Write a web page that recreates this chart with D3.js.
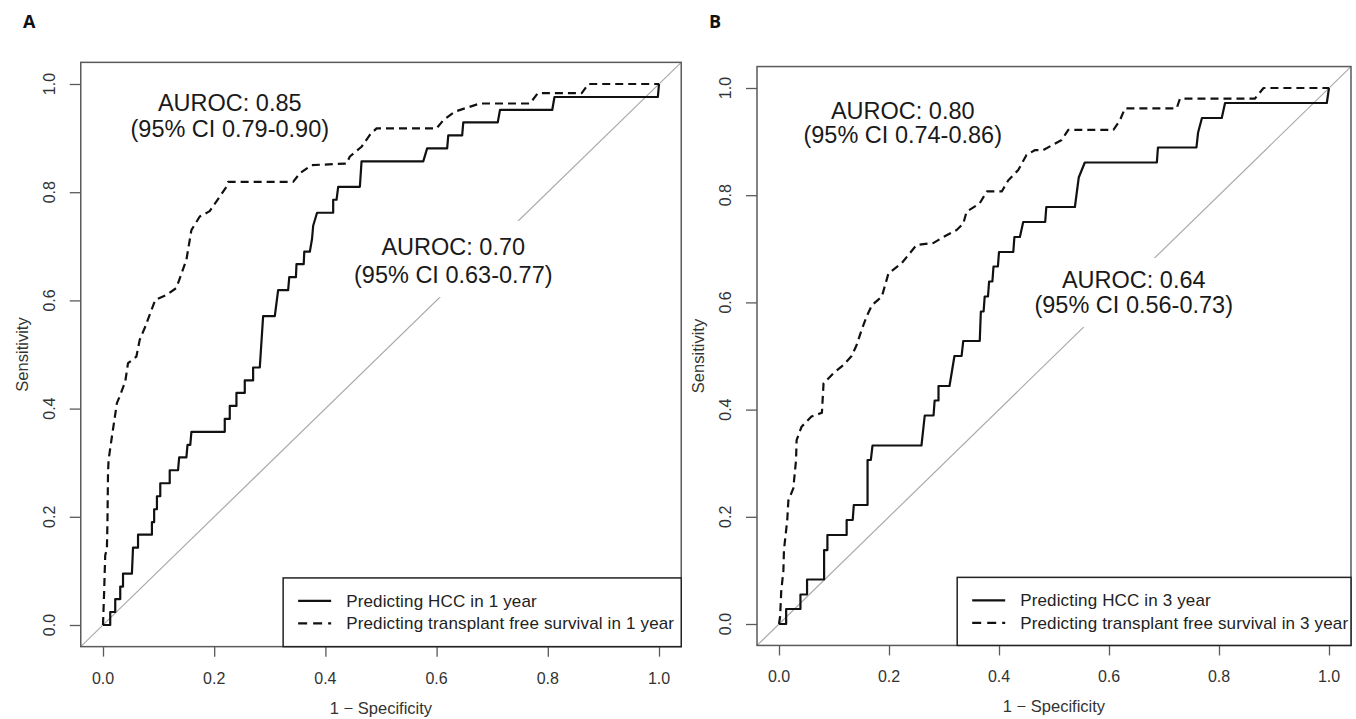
<!DOCTYPE html>
<html>
<head>
<meta charset="utf-8">
<script src="https://d3js.org/d3.v7.min.js"></script>
<title>ROC curves</title>
<style>
  body { margin: 0; background: #fff; }
  svg { display: block; font-family: "Liberation Sans", Arial, Helvetica, sans-serif; }
  .frame { fill: none; stroke: #5a5a5a; stroke-width: 1.5px; }
  .tick line { stroke: #5a5a5a; stroke-width: 1.3px; }
  .ticklab { font-size: 16px; fill: #333; }
  .title { font-size: 16.5px; fill: #333; }
  .diag { stroke: #aaa; stroke-width: 1.2px; }
  .roc { fill: none; stroke: #111; stroke-width: 2.2px; stroke-linejoin: round; }
  .dashed { stroke-dasharray: 8, 5; }
  .auroc { font-size: 23.5px; fill: #1a1a1a; text-anchor: middle; }
  .legtext { font-size: 17px; letter-spacing: 0.15px; fill: #222; }
</style>
</head>
<body>
<svg width="1356" height="719"></svg>
<script>
// axis ticks (both panels)
const tickVals = [0, 0.2, 0.4, 0.6, 0.8, 1.0];

// Panel A: ROC points [1 - specificity, sensitivity]
const hcc1yr = [
  [0,0],[0.013,0],[0.013,0.024],[0.022,0.024],[0.022,0.048],[0.031,0.048],[0.031,0.071],
  [0.036,0.071],[0.036,0.095],[0.052,0.095],[0.054,0.143],[0.063,0.143],[0.063,0.167],
  [0.088,0.167],[0.088,0.19],[0.092,0.19],[0.092,0.214],[0.097,0.214],[0.097,0.238],
  [0.103,0.238],[0.103,0.262],[0.12,0.262],
  [0.12,0.286],[0.135,0.286],[0.137,0.31],[0.15,0.31],[0.152,0.333],[0.157,0.333],
  [0.159,0.357],[0.219,0.357],[0.219,0.381],[0.228,0.381],[0.228,0.405],[0.24,0.405],
  [0.24,0.429],[0.255,0.429],[0.255,0.452],[0.27,0.452],[0.27,0.476],[0.282,0.476],
  [0.288,0.571],[0.309,0.571],[0.315,0.619],[0.333,0.619],[0.335,0.643],[0.347,0.643],
  [0.348,0.667],[0.361,0.667],[0.362,0.69],[0.372,0.69],[0.376,0.714],[0.378,0.738],
  [0.385,0.762],[0.414,0.762],[0.414,0.786],[0.42,0.786],[0.423,0.81],[0.462,0.81],
  [0.465,0.857],[0.576,0.857],[0.583,0.881],[0.619,0.881],[0.621,0.905],[0.646,0.905],
  [0.648,0.929],[0.71,0.929],[0.714,0.952],[0.808,0.952],[0.812,0.976],[0.998,0.976],[1,1]
];
const tfs1yr = [
  [0,0],[0.002,0.06],[0.004,0.129],[0.007,0.14],[0.008,0.19],[0.009,0.28],[0.01,0.305],
  [0.016,0.348],[0.025,0.41],[0.031,0.425],[0.04,0.45],[0.045,0.484],[0.06,0.496],
  [0.066,0.527],[0.075,0.549],[0.094,0.601],[0.114,0.61],[0.132,0.623],[0.15,0.675],
  [0.159,0.73],[0.174,0.755],[0.192,0.765],[0.21,0.792],[0.222,0.81],[0.225,0.819],
  [0.342,0.819],[0.354,0.835],[0.375,0.85],[0.438,0.853],[0.444,0.866],[0.465,0.884],
  [0.48,0.906],[0.492,0.918],[0.6,0.918],[0.612,0.933],[0.633,0.949],[0.678,0.964],
  [0.768,0.964],[0.782,0.983],[0.861,0.983],[0.873,1],[1,1]
];

// Panel B
const hcc3yr = [
  [0,0],[0.013,0],[0.013,0.028],[0.039,0.028],[0.039,0.055],[0.051,0.055],[0.051,0.083],
  [0.082,0.083],[0.082,0.138],[0.088,0.138],[0.088,0.166],[0.123,0.166],[0.123,0.194],
  [0.134,0.194],[0.136,0.222],[0.161,0.222],[0.161,0.306],[0.167,0.306],[0.17,0.333],
  [0.259,0.333],[0.265,0.389],[0.281,0.389],[0.283,0.417],[0.29,0.417],[0.29,0.444],
  [0.31,0.444],[0.319,0.5],[0.332,0.5],[0.335,0.528],[0.365,0.528],[0.367,0.583],
  [0.372,0.583],[0.374,0.611],[0.38,0.611],[0.382,0.639],[0.388,0.639],[0.39,0.667],
  [0.398,0.667],[0.4,0.694],[0.426,0.694],[0.428,0.722],
  [0.438,0.722],[0.444,0.75],[0.484,0.75],[0.486,0.778],[0.538,0.778],[0.545,0.833],
  [0.556,0.861],[0.687,0.861],[0.689,0.889],[0.759,0.889],[0.762,0.917],[0.769,0.944],
  [0.805,0.944],[0.811,0.972],[0.996,0.972],[1,1]
];
const tfs3yr = [
  [0,0],[0.002,0.014],[0.004,0.06],[0.008,0.1],[0.009,0.138],[0.015,0.194],[0.017,0.23],
  [0.026,0.253],[0.031,0.306],[0.032,0.343],[0.041,0.368],[0.059,0.387],[0.078,0.394],
  [0.081,0.449],[0.099,0.468],[0.117,0.483],[0.132,0.5],[0.141,0.52],[0.15,0.548],
  [0.159,0.573],[0.169,0.595],[0.187,0.611],[0.199,0.654],[0.223,0.673],[0.238,0.692],
  [0.25,0.707],[0.281,0.711],[0.299,0.722],[0.323,0.735],[0.335,0.747],[0.341,0.769],
  [0.365,0.785],[0.378,0.807],[0.405,0.807],[0.417,0.828],[0.435,0.847],[0.45,0.875],
  [0.465,0.884],[0.48,0.884],[0.514,0.903],[0.526,0.922],[0.608,0.922],[0.62,0.94],
  [0.629,0.962],[0.723,0.962],[0.729,0.98],[0.865,0.98],[0.881,1],[1,1]
];

const legendA = ["Predicting HCC in 1 year", "Predicting transplant free survival in 1 year"];
const legendB = ["Predicting HCC in 3 year", "Predicting transplant free survival in 3 year"];

const aurocA = [["AUROC: 0.85", "(95% CI 0.79-0.90)"], ["AUROC: 0.70", "(95% CI 0.63-0.77)"]];
const aurocB = [["AUROC: 0.80", "(95% CI 0.74-0.86)"], ["AUROC: 0.64", "(95% CI 0.56-0.73)"]];

const svg = d3.select("svg");

const panels = [
  { letter: "A", letterX: 23, xr: [103, 659], yr: [625, 84], solid: hcc1yr, dashed: tfs1yr,
    legend: legendA, auroc: aurocA,
    labelPos: [[0.228, 0.95, 0.902], [0.63, 0.684, 0.632]],
    blank: [0.435, 0.822, 0.606, 0.747] },
  { letter: "B", letterX: 709, xr: [779, 1329], yr: [624, 88], solid: hcc3yr, dashed: tfs3yr,
    legend: legendB, auroc: aurocB,
    labelPos: [[0.225, 0.942, 0.897], [0.645, 0.627, 0.58]],
    blank: [0.411, 0.838, 0.554, 0.683] }
];

panels.forEach(p => {
  const x = d3.scaleLinear().domain([0, 1]).range(p.xr);
  const y = d3.scaleLinear().domain([0, 1]).range(p.yr);
  const g = svg.append("g");

  // panel letter
  svg.append("text").attr("x", p.letterX).attr("y", 28)
    .attr("font-size", 18).attr("font-weight", "bold").attr("fill", "#111")
    .attr("font-family", "'Open Sans', 'DejaVu Sans', sans-serif")
    .text(p.letter);

  const L = x(-0.04), R = x(1.04), T = y(1.04), B = y(-0.04);

  // reference diagonal
  g.append("line").attr("class", "diag")
    .attr("x1", L).attr("y1", B).attr("x2", R).attr("y2", T);

  // white background behind the second AUROC label
  g.append("rect")
    .attr("x", x(p.blank[0])).attr("width", x(p.blank[1]) - x(p.blank[0]))
    .attr("y", y(p.blank[3])).attr("height", y(p.blank[2]) - y(p.blank[3]))
    .attr("fill", "#fff");

  // axes
  const xAxis = g.append("g").attr("transform", `translate(0,${B})`)
    .call(d3.axisBottom(x).tickValues(tickVals).tickSize(10).tickFormat(""));
  xAxis.select(".domain").remove();
  const yAxis = g.append("g").attr("transform", `translate(${L},0)`)
    .call(d3.axisLeft(y).tickValues(tickVals).tickSize(11).tickFormat(""));
  yAxis.select(".domain").remove();

  g.selectAll(".xlab").data(tickVals).enter().append("text")
    .attr("class", "ticklab").attr("text-anchor", "middle")
    .attr("x", d => x(d)).attr("y", B + 37)
    .text(d3.format(".1f"));
  g.selectAll(".ylab").data(tickVals).enter().append("text")
    .attr("class", "ticklab").attr("text-anchor", "middle")
    .attr("transform", d => `translate(${L - 26},${y(d)}) rotate(-90)`)
    .text(d3.format(".1f"));

  g.append("text").attr("class", "title").attr("text-anchor", "middle")
    .attr("x", x(0.5)).attr("y", B + 67).text("1 \u2212 Specificity");
  g.append("text").attr("class", "title").attr("text-anchor", "middle")
    .attr("transform", `translate(${L - 53},${y(0.5)}) rotate(-90)`).text("Sensitivity");

  // ROC curves
  const line = d3.line().x(d => x(d[0])).y(d => y(d[1]));
  g.append("path").attr("class", "roc").attr("d", line(p.solid));
  g.append("path").attr("class", "roc dashed").attr("d", line(p.dashed));

  // frame
  g.append("rect").attr("class", "frame")
    .attr("x", L).attr("y", T).attr("width", R - L).attr("height", B - T);

  // AUROC labels
  p.auroc.forEach((lines, i) => {
    const pos = p.labelPos[i];
    lines.forEach((t, j) => {
      g.append("text").attr("class", "auroc")
        .attr("x", x(pos[0])).attr("y", y(pos[1 + j])).text(t);
    });
  });

  // legend
  const lx = x(0.324), ly = y(0.087);
  g.append("rect").attr("x", lx).attr("y", ly).attr("width", R - lx).attr("height", B - ly)
    .attr("fill", "#fff").attr("stroke", "#222").attr("stroke-width", 1.5);
  p.legend.forEach((t, i) => {
    const cy = ly + 23 + i * 22.5;
    g.append("line").attr("class", "roc" + (i ? " dashed" : ""))
      .attr("x1", lx + 15).attr("x2", lx + 48).attr("y1", cy).attr("y2", cy)
      .style("stroke-dasharray", i ? "9,6" : null);
    g.append("text").attr("class", "legtext")
      .attr("x", lx + 63).attr("y", cy + 6).text(t);
  });
});
</script>
</body>
</html>
